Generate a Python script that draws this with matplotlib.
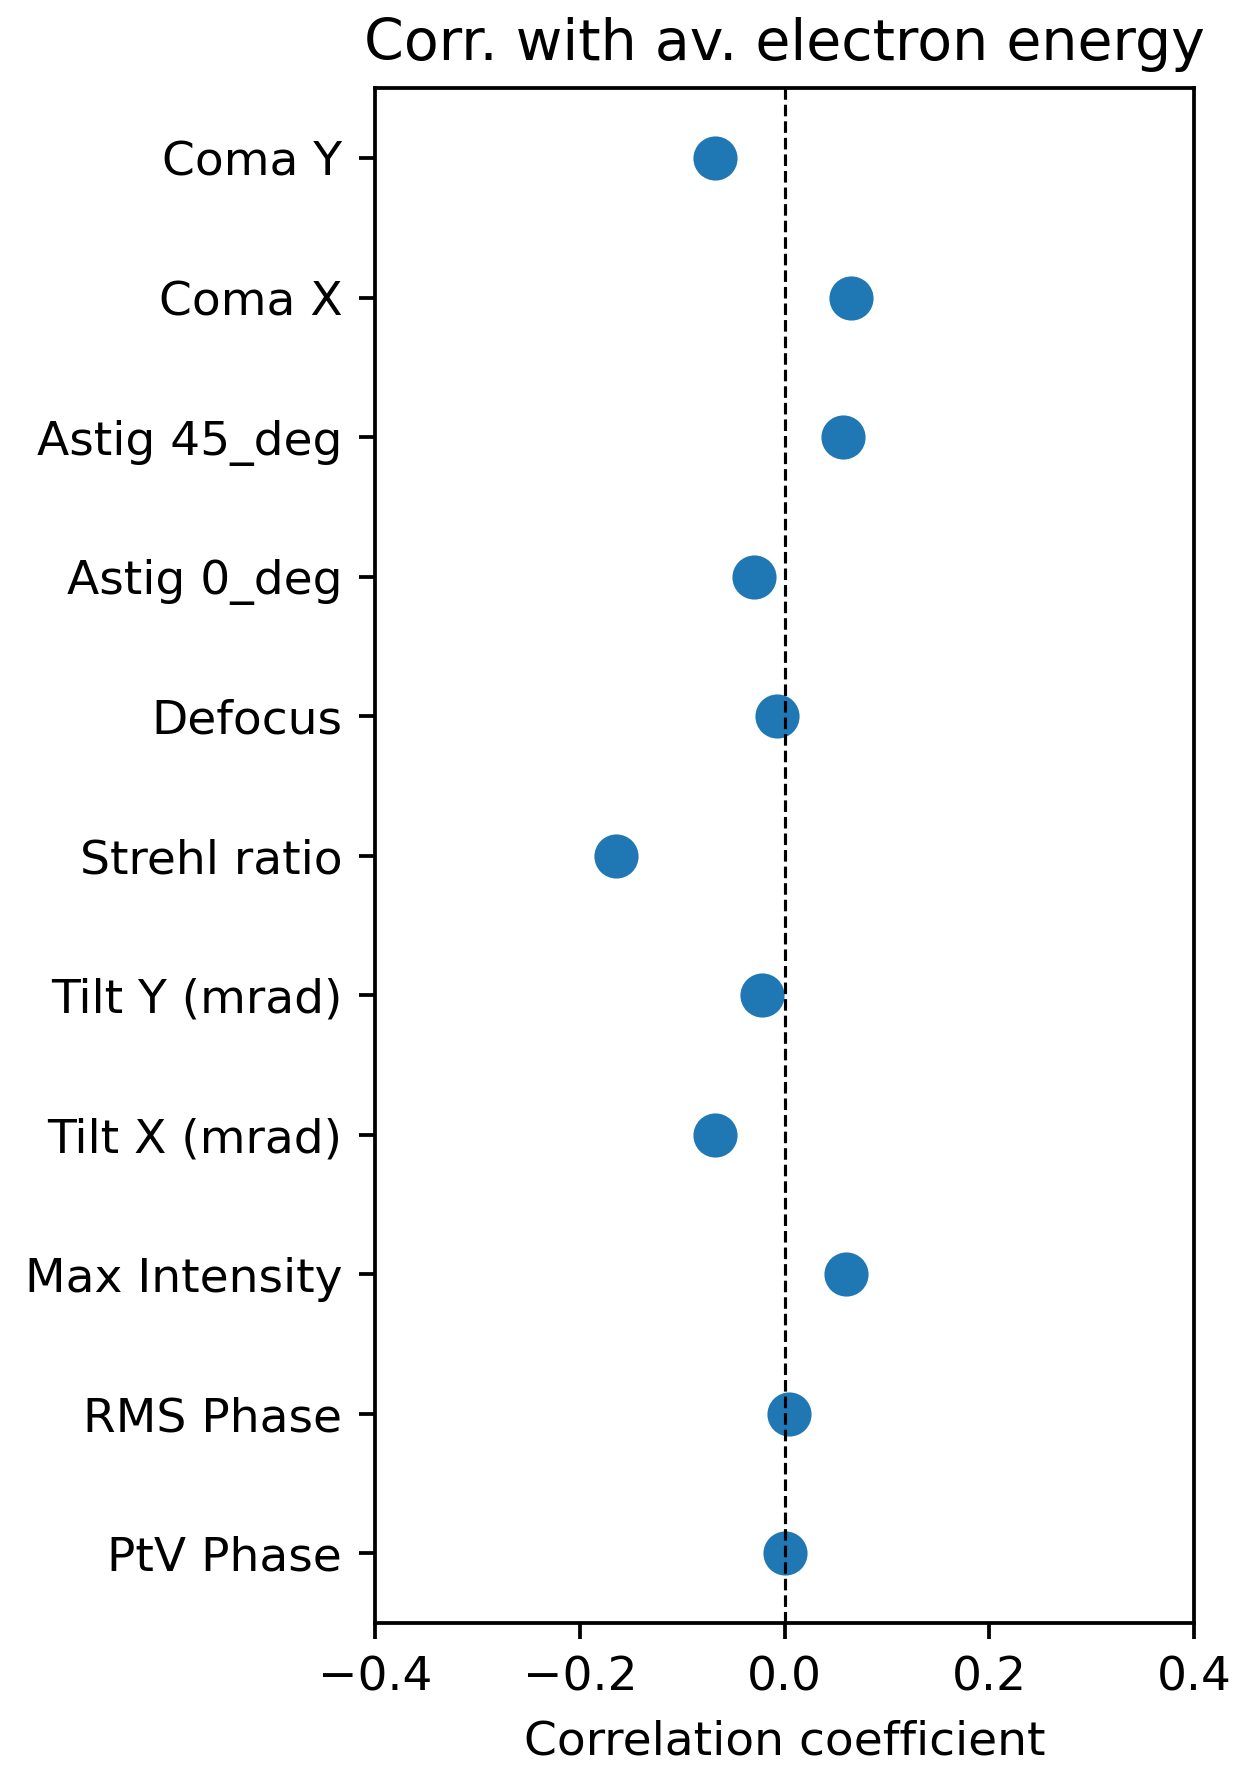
import matplotlib
matplotlib.use("Agg")
import matplotlib.pyplot as plt

# Aberration / beam parameters, listed bottom to top on the y axis
features = [
    "PtV Phase",
    "RMS Phase",
    "Max Intensity",
    "Tilt X (mrad)",
    "Tilt Y (mrad)",
    "Strehl ratio",
    "Defocus",
    "Astig 0_deg",
    "Astig 45_deg",
    "Coma X",
    "Coma Y",
]
# Pearson correlation of each parameter with average electron energy
corr = [0.000, 0.004, 0.060, -0.068, -0.022, -0.165, -0.007, -0.030, 0.057, 0.065, -0.068]

xticks = [-0.4, -0.2, 0.0, 0.2, 0.4]

scale = 1.13
plt.rcParams.update({
    "font.size": 10 * scale,
    "axes.linewidth": 0.8 * scale,
    "xtick.major.width": 0.8 * scale,
    "ytick.major.width": 0.8 * scale,
    "xtick.major.size": 3.5 * scale,
    "ytick.major.size": 3.5 * scale,
    "xtick.major.pad": 3.5 * scale,
    "ytick.major.pad": 3.5 * scale,
    "axes.titlepad": 6 * scale,
    "axes.labelpad": 4 * scale,
})

fig = plt.figure(figsize=(1240 / 300, 1768 / 300), dpi=300)
ax = fig.add_axes([0.3025, 0.082, 0.6605, 0.868])

ypos = list(range(len(features)))
ax.scatter(corr, ypos, s=92, color="#1f77b4")
ax.axvline(0.0, color="black", linestyle="--", linewidth=0.75)

ax.set_yticks(ypos)
ax.set_yticklabels(features)
ax.set_ylim(-0.5, len(features) - 0.5)
ax.set_xlim(-0.4, 0.4)
ax.set_xticks(xticks)
ax.set_xlabel("Correlation coefficient")
ax.set_title("Corr. with av. electron energy", fontsize=13.7)

fig.savefig("out.png", dpi=300)
